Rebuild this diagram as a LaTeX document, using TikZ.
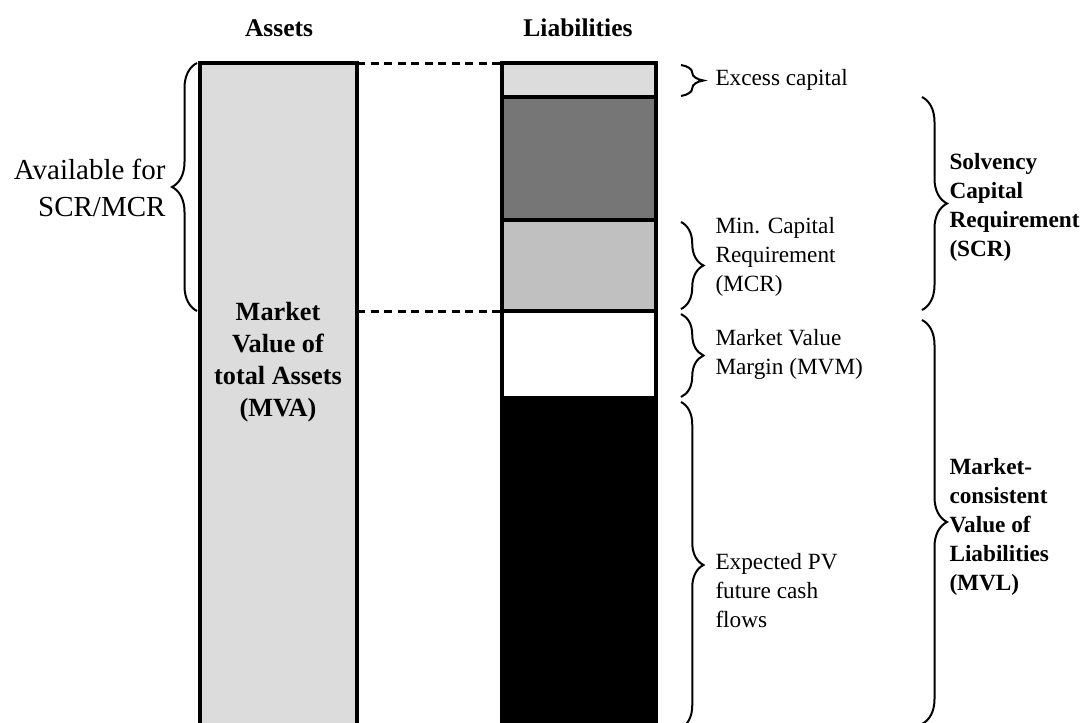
\documentclass[tikz,border=0pt]{standalone}
\usepackage{fontspec}
\setmainfont{Liberation Serif}
\usepackage{xcolor}
\usetikzlibrary{decorations.pathreplacing}

\definecolor{paleshade}{RGB}{220,220,220}
\definecolor{midshade}{RGB}{192,192,192}
\definecolor{deepshade}{RGB}{118,118,118}

\begin{document}
\begin{tikzpicture}[
    x=0.4pt, y=-0.4pt,
    bar/.style={draw=black, line width=1.3pt},
    link/.style={line width=1.2pt, dash pattern=on 3.2pt off 2.2pt},
    brace/.style={decorate, decoration={brace, amplitude=9pt}, line width=0.8pt},
    bigbrace/.style={decorate, decoration={brace, amplitude=10pt}, line width=0.8pt},
    head/.style={font=\bfseries\fontsize{10.2}{12}\selectfont},
    note/.style={font=\fontsize{9.3}{11.6}\selectfont, align=left,
                 inner sep=0pt, anchor=west},
    total/.style={font=\bfseries\fontsize{9.3}{11.6}\selectfont, align=left,
                  inner sep=0pt, anchor=west}
]
\useasboundingbox (0,0) rectangle (1082,722);
\begin{scope}
\clip (0,0) rectangle (1082,722);
% assets column
\draw[bar, fill=paleshade] (200,63) rectangle (357,740);
% liabilities column
\foreach \ya/\yb/\tone in {63/97/paleshade, 97/220/deepshade, 220/311/midshade,
                          311/398/white, 398/740/black} {
    \draw[bar, fill=\tone] (502,\ya) rectangle (656,\yb);
}
\end{scope}
\coordinate (assetNE) at (357,63);
\coordinate (liabNW) at (502,63);
\coordinate (assetcut) at (357,311);
\coordinate (liabcut) at (502,311);
\draw[link] (assetNE) -- (liabNW);
\draw[link] (assetcut) -- (liabcut);

% braces
\draw[bigbrace] (197,311) -- (197,63);
\draw[brace] (681,65) -- (681,96);
\draw[brace] (681,222) -- (681,309);
\draw[brace] (681,314) -- (681,397);
\draw[brace] (681,402) -- (681,728);
\draw[bigbrace] (922,97) -- (922,310);
\draw[bigbrace] (922,320) -- (922,724);

% labels
\node[head] (assetshead) at (279,28) {Assets};
\node[head] (liabhead) at (578,28) {Liabilities};
\node[font=\bfseries\fontsize{10.5}{12.8}\selectfont, align=center] (mva)
    at (278,362) {Market\\Value of\\total Assets\\(MVA)};
\node[font=\fontsize{11.6}{14.8}\selectfont, align=right, anchor=east,
      inner sep=0pt] (avail) at (166,188) {Available for\\SCR/MCR};
\node[note] (excess) at (715,80) {Excess capital};
\node[note] (mcr) at (715,257) {Min. Capital\\Requirement\\(MCR)};
\node[note] (mvm) at (715,354) {Market Value\\Margin (MVM)};
\node[note] (pv) at (715,591) {Expected PV\\future cash\\flows};
\node[total] (scr) at (949,207) {Solvency\\Capital\\Requirement\\(SCR)};
\node[total] (mvl) at (949,527) {Market-\\consistent\\Value of\\Liabilities\\(MVL)};
\end{tikzpicture}
\end{document}
